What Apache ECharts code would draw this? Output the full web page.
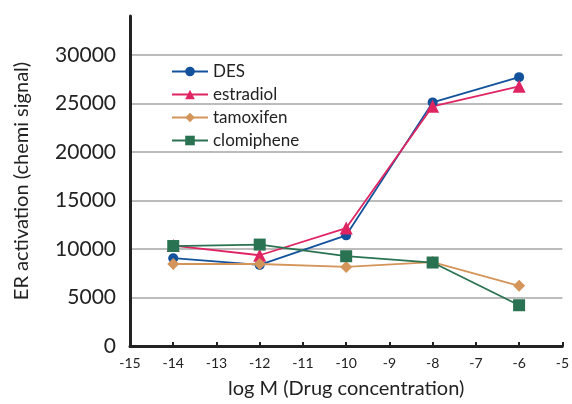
<!DOCTYPE html>
<html>
<head>
<meta charset="utf-8">
<script src="https://cdn.jsdelivr.net/npm/echarts@6/dist/echarts.min.js"></script>
<style>
html,body{margin:0;padding:0;background:#fff;}
#chart{width:572px;height:404px;}
</style>
</head>
<body>
<div id="chart"></div>
<script>
// log M values
var logM = [-14, -12, -10, -8, -6];
var desVals = [9050, 8350, 11400, 25100, 27700];
var estradiolVals = [10350, 9350, 12150, 24700, 26750];
var tamoxifenVals = [8450, 8450, 8150, 8650, 6200];
var clomipheneVals = [10300, 10450, 9250, 8600, 4200];

function pairs(vals) {
  return logM.map(function (x, i) { return [x, vals[i]]; });
}

var font = 'Lato, "Open Sans", sans-serif';
var gridGray = '#bcbcbc';

var myChart = echarts.init(document.getElementById('chart'));
var opt = {
  animation: false,
  grid: { left: 130, right: 5, top: 16, bottom: 56 },
  legend: {
    orient: 'vertical',
    left: 166,
    top: 58,
    itemWidth: 36,
    itemHeight: 12,
    itemGap: 6,
    textStyle: { fontFamily: font, fontSize: 17, color: '#222' },
    data: ['DES', 'estradiol', 'tamoxifen', 'clomiphene']
  },
  xAxis: {
    type: 'value',
    min: -15,
    max: -5,
    interval: 1,
    name: 'log M (Drug concentration)',
    nameLocation: 'middle',
    nameGap: 33,
    nameTextStyle: { fontFamily: font, fontSize: 20, color: '#222' },
    axisLine: { lineStyle: { color: '#222', width: 3 } },
    axisTick: { inside: true, length: 4, lineStyle: { color: '#222', width: 2 } },
    axisLabel: { fontFamily: font, fontSize: 14, color: '#222', margin: 10 },
    splitLine: { show: false }
  },
  yAxis: {
    type: 'value',
    min: 0,
    max: 34000,
    interval: 5000,
    name: 'ER activation (chemi signal)',
    nameLocation: 'middle',
    nameGap: 98,
    nameTextStyle: { fontFamily: font, fontSize: 20, color: '#222' },
    axisLine: { show: true, lineStyle: { color: '#222', width: 3 } },
    axisTick: { show: false },
    axisLabel: {
      fontFamily: font, fontSize: 21, color: '#222', margin: 14, showMaxLabel: false,
      formatter: function (v) { return String(v); }
    },
    splitLine: {
      show: true,
      showMinLine: false,
      showMaxLine: false,
      lineStyle: { width: 2, color: gridGray, opacity: 1, type: 'solid' }
    }
  },
  series: [
    {
      name: 'DES',
      type: 'line',
      data: pairs(desVals),
      symbol: 'circle',
      symbolSize: 10,
      itemStyle: { color: '#12529c' },
      lineStyle: { color: '#12529c', width: 1.8 }
    },
    {
      name: 'estradiol',
      type: 'line',
      data: pairs(estradiolVals),
      symbol: 'triangle',
      symbolSize: 13,
      itemStyle: { color: '#e02462' },
      lineStyle: { color: '#e02462', width: 1.8 }
    },
    {
      name: 'tamoxifen',
      type: 'line',
      data: pairs(tamoxifenVals),
      symbol: 'diamond',
      symbolSize: 12,
      itemStyle: { color: '#d4955a' },
      lineStyle: { color: '#d4955a', width: 1.8 }
    },
    {
      name: 'clomiphene',
      type: 'line',
      data: pairs(clomipheneVals),
      symbol: 'rect',
      symbolSize: 12,
      itemStyle: { color: '#2a7352' },
      lineStyle: { color: '#2a7352', width: 1.8 }
    }
  ]
};
myChart.setOption(opt);
</script>
</body>
</html>
